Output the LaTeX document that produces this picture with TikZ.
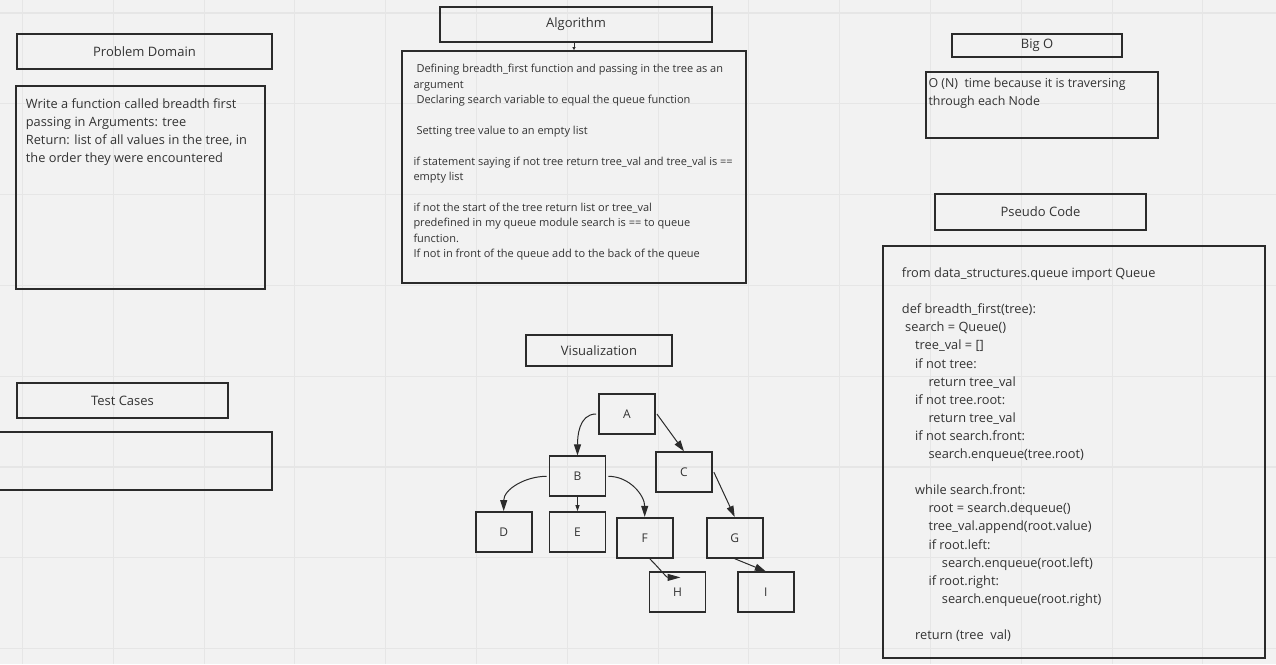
\documentclass[tikz,border=0pt]{standalone}
\usepackage{fontspec}
\setmainfont{Open Sans}
\usetikzlibrary{arrows.meta}
\definecolor{bgc}{HTML}{F2F2F2}
\definecolor{gridc}{HTML}{E6E6E6}
\definecolor{linec}{HTML}{2B2B2B}
\definecolor{textc}{HTML}{333333}
\begin{document}
\begin{tikzpicture}[x=1pt,y=-1pt,
  box/.style={draw=linec, line width=1.8pt, inner sep=0pt, text=textc},
  titlebox/.style={box, font=\fontsize{13}{16}\selectfont},
  treebox/.style={box, minimum width=56pt, minimum height=40pt, font=\fontsize{12}{14}\selectfont},
  bodytext/.style={anchor=north west, inner sep=0pt, align=left, text=textc},
  edge/.style={draw=linec, line width=1pt, -{Triangle[length=11pt,width=7pt]}}]
% background and grid
\useasboundingbox (0,0) rectangle (1276,664);
\fill[bgc] (0,0) rectangle (1276,664);
\foreach \gx in {0,...,13} \draw[gridc, line width=1.1pt] ({22.5+90.8*\gx},0) -- ++(0,664);
\foreach \gy in {0,...,7} \draw[gridc, line width=1.1pt] (0,{13+90.8*\gy}) -- ++(1276,0);
% Problem Domain
\node[titlebox, minimum width=255pt, minimum height=35pt] (pdtitle) at (144.5,51.5) {Problem Domain};
\node[box, minimum width=249pt, minimum height=203pt] (pdbody) at (140.5,187.5) {};
\node[bodytext, font=\fontsize{12.8}{18}\selectfont] (pdtext) at (25.7,98.5) {Write a function called breadth first\\passing in Arguments: tree\\Return: list of all values in the tree, in\\the order they were encountered};
% Algorithm
\node[titlebox, minimum width=272pt, minimum height=35pt] (algtitle) at (576,24.5) {Algorithm};
\node[box, minimum width=344pt, minimum height=232pt] (algbody) at (574,167) {};
\node[bodytext, font=\fontsize{11}{15.4}\selectfont] (algtext) at (413.3,64) {\hspace*{3pt}Defining breadth\_first function and passing in the tree as an\\argument\\\hspace*{3pt}Declaring search variable to equal the queue function\\[15.4pt]\hspace*{3pt}Setting tree value to an empty list\\[15.4pt]if statement saying if not tree return tree\_val and tree\_val is ==\\empty list\\[15.4pt]if not the start of the tree return list or tree\_val\\predefined in my queue module search is == to queue\\function.\\If not in front of the queue add to the back of the queue};
\draw[draw=linec, line width=0.8pt, -{Triangle[length=3pt,width=3pt]}] ([xshift=-2pt]algtitle.south) -- (algbody.north);
% Big O
\node[titlebox, minimum width=170pt, minimum height=23pt] (bigotitle) at (1037,45.5) {Big O};
\node[box, minimum width=232pt, minimum height=66pt] (bigobody) at (1042,105) {};
\node[bodytext, font=\fontsize{12.4}{17.4}\selectfont] (bigotext) at (928.3,78) {O (N)\ \ time because it is traversing\\through each Node};
% Pseudo Code
\node[titlebox, minimum width=211pt, minimum height=36pt] (pctitle) at (1040.5,212) {Pseudo Code};
\node[box, minimum width=382pt, minimum height=412pt] (pcbody) at (1074,452) {};
\node[bodytext, font=\fontsize{12.8}{18.1}\selectfont] (pctext) at (901.7,267.5) {from data\_structures.queue import Queue\\[18.1pt]
def breadth\_first(tree):\\
\hspace*{3.3pt}search = Queue()\\
\hspace*{13.3pt}tree\_val = []\\
\hspace*{13.3pt}if not tree:\\
\hspace*{26.6pt}return tree\_val\\
\hspace*{13.3pt}if not tree.root:\\
\hspace*{26.6pt}return tree\_val\\
\hspace*{13.3pt}if not search.front:\\
\hspace*{26.6pt}search.enqueue(tree.root)\\[18.1pt]
\hspace*{13.3pt}while search.front:\\
\hspace*{26.6pt}root = search.dequeue()\\
\hspace*{26.6pt}tree\_val.append(root.value)\\
\hspace*{26.6pt}if root.left:\\
\hspace*{40pt}search.enqueue(root.left)\\
\hspace*{26.6pt}if root.right:\\
\hspace*{40pt}search.enqueue(root.right)\\[18.1pt]
\hspace*{13.3pt}return (tree\ \ val)};
% Test Cases
\node[titlebox, minimum width=211pt, minimum height=35pt] (tctitle) at (122.5,400.5) {Test Cases};
\node[box, minimum width=274pt, minimum height=58pt] (tcbody) at (135,461) {};
% Visualization
\node[titlebox, minimum width=146pt, minimum height=31pt] (vistitle) at (599,350.5) {Visualization};
\node[treebox] (A) at (627,414) {A};
\node[treebox] (B) at (577.5,476.3) {B};
\node[treebox] (C) at (684,472.2) {C};
\node[treebox] (D) at (503.7,532) {D};
\node[treebox] (E) at (577.5,532) {E};
\node[treebox] (F) at (644.7,537.8) {F};
\node[treebox] (G) at (734.7,537.8) {G};
\node[treebox] (H) at (677.5,592.3) {H};
\node[treebox] (I) at (765.8,592.3) {I};
\draw[edge] ([xshift=-2pt]A.west) to[out=180,in=90] (B.north);
\draw[edge] ([xshift=1pt]A.east) -- (C.north);
\draw[edge] ([xshift=-2pt]B.west) to[out=180,in=90] (D.north);
\draw[edge, -{Triangle[length=6pt,width=4pt]}] (B.south) -- (E.north);
\draw[edge] ([xshift=2pt]B.east) to[out=0,in=90] (F.north);
\draw[edge] ([xshift=1pt]C.east) -- (G.north);
\draw[edge, -{Triangle[length=13pt,width=7pt]}] ([xshift=5pt]F.south) to[out=-45,in=180] ([xshift=3pt,yshift=-6pt]H.north);
\draw[edge] (G.south) -- (I.north);
\end{tikzpicture}
\end{document}
